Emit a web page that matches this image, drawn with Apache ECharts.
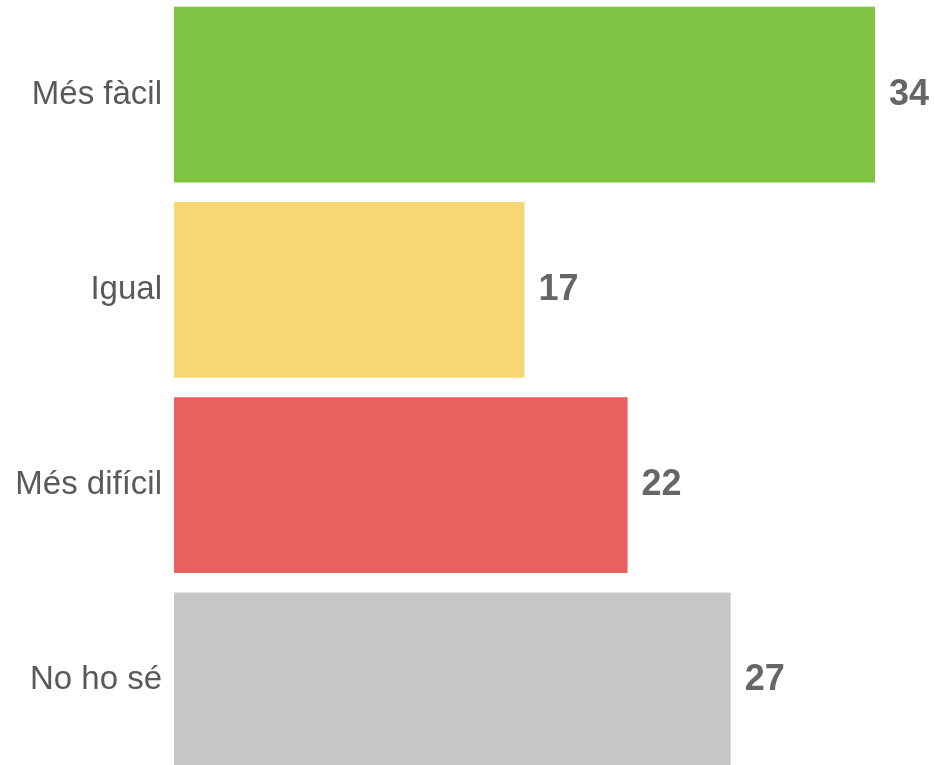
<!DOCTYPE html>
<html>
<head>
<meta charset="utf-8">
<script src="https://cdn.jsdelivr.net/npm/echarts@6/dist/echarts.min.js"></script>
<style>
html,body{margin:0;padding:0;background:#fff;overflow:hidden;width:935px;height:765px;}
#chart{width:935px;height:781px;margin-top:-3px;}
</style>
</head>
<body>
<div id="chart"></div>
<script>
const categories = ["Més fàcil", "Igual", "Més difícil", "No ho sé"];
const values = [34, 17, 22, 27];
const colors = ["#80c241", "#f7d774", "#e86060", "#c6c6c6"];

const chart = echarts.init(document.getElementById('chart'), null, {renderer: 'canvas'});
chart.setOption({
  animation: false,
  backgroundColor: '#ffffff',
  grid: {left: 174, top: 0, width: 701, height: 781, containLabel: false},
  xAxis: {
    type: 'value', min: 0, max: 34, show: false
  },
  yAxis: {
    type: 'category', data: categories, inverse: true,
    axisLine: {show: false}, axisTick: {show: false}, splitLine: {show: false},
    axisLabel: {
      fontFamily: 'Liberation Sans, Arial, sans-serif', fontSize: 33, color: '#595959', margin: 12
    }
  },
  series: [{
    type: 'bar',
    data: values.map((v, i) => ({value: v, itemStyle: {color: colors[i]}})),
    barCategoryGap: '10%',
    label: {
      show: true, position: 'right', distance: 14,
      fontFamily: 'Liberation Sans, Arial, sans-serif', fontSize: 36, fontWeight: 'bold', color: '#666666'
    }
  }]
});
</script>
</body>
</html>
